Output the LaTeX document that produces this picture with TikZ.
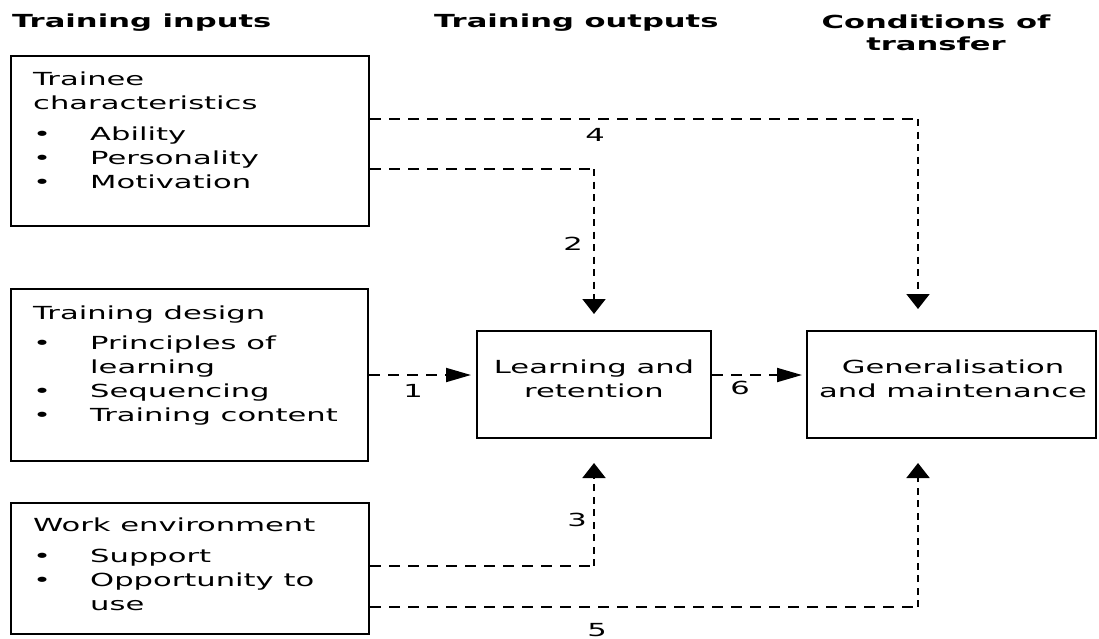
\documentclass[tikz,border=0pt]{standalone}
\usepackage{fontspec}
\setmainfont{DejaVu Sans}[FakeStretch=1.7]
\usetikzlibrary{arrows.meta, calc, positioning}
\newcommand{\itm}[1]{\makebox[57pt][l]{\textbullet}#1}

\begin{document}
\begin{tikzpicture}[x=1pt, y=-1pt,
  box/.style={draw, line width=2pt, anchor=north west, inner sep=0pt},
  boxtext/.style={anchor=base west, align=left, inner sep=0pt, font=\fontsize{18}{24}\selectfont},
  head/.style={anchor=base west, align=center, inner sep=0pt, font=\fontsize{18}{22}\selectfont\bfseries},
  num/.style={inner sep=0pt, font=\fontsize{18}{24}\selectfont},
  hdash/.style={line width=1.9pt, dash pattern=on 11pt off 8pt},
  vdash/.style={line width=1.9pt, dash pattern=on 7pt off 5.5pt},
  harrow/.style={hdash, -{Triangle[length=25pt, width=14pt]}},
  varrow/.style={vdash, -{Triangle[length=15pt, width=23pt]}}]

\useasboundingbox (0,0) rectangle (1099,638);

% headings (multi-line texts sit on their last baseline)
\node[head] (hin) at (12,27) {Training inputs};
\node[head] (hout) at (434,27) {Training outputs};
\node[head, anchor=base] (hcond) at (936,50) {Conditions of\\transfer};

% input boxes
\node[box, minimum width=358pt, minimum height=170pt] (trainee) at (10,55) {};
\node[boxtext] (traineetxt) at (33,188)
  {Trainee\\characteristics\\[7pt]\itm{Ability}\\\itm{Personality}\\\itm{Motivation}};

\node[box, minimum width=357pt, minimum height=172pt] (design) at (10,288) {};
\node[boxtext] (designtxt) at (33,421)
  {Training design\\[6pt]\itm{Principles of}\\\hspace*{57pt}learning\\\itm{Sequencing}\\\itm{Training content}};

\node[box, minimum width=358pt, minimum height=131pt] (work) at (10,502) {};
\node[boxtext] (worktxt) at (33,610)
  {Work environment\\[7pt]\itm{Support}\\\itm{Opportunity to}\\\hspace*{57pt}use};

% output boxes
\node[box, anchor=center, minimum width=234pt, minimum height=107pt] (learn) at (594,384.5) {};
\node[boxtext, anchor=base, align=center] (learntxt) at (594,397) {Learning and\\retention};

\node[box, anchor=center, minimum width=289pt, minimum height=107pt] (gen) at (951.5,384.5) {};
\node[boxtext, anchor=base, align=center] (gentxt) at (953,397) {Generalisation\\and maintenance};

% bends
\coordinate (r1) at (0,375);
\coordinate (c4) at (918,119);
\coordinate (c2) at (594,169);
\coordinate (c3) at (594,566);
\coordinate (c5) at (918,607);

% links
\draw[hdash] (trainee.east |- c4) -- (c4);
\draw[varrow] (c4) -- ($(c4 |- gen.north)+(0,-21)$);
\draw[hdash] (trainee.east |- c2) -- (c2);
\draw[varrow] (c2) -- ($(learn.north)+(0,-16)$);
\draw[harrow] (design.east |- r1) -- ($(learn.west |- r1)+(-5,0)$);
\draw[harrow] (learn.east |- r1) -- ($(gen.west |- r1)+(-4,0)$);
\draw[hdash] (work.east |- c3) -- (c3);
\draw[varrow] (c3) -- ($(learn.south)+(0,24)$);
\draw[hdash] (work.east |- c5) -- (c5);
\draw[varrow] (c5) -- ($(c5 |- gen.south)+(0,24)$);

% numbers
\node[num] (n1) at (413,391) {1};
\node[num] (n2) at (573,244) {2};
\node[num] (n3) at (577,520) {3};
\node[num] (n4) at (595,135) {4};
\node[num] (n5) at (597,630) {5};
\node[num] (n6) at (740,388) {6};

\end{tikzpicture}
\end{document}
